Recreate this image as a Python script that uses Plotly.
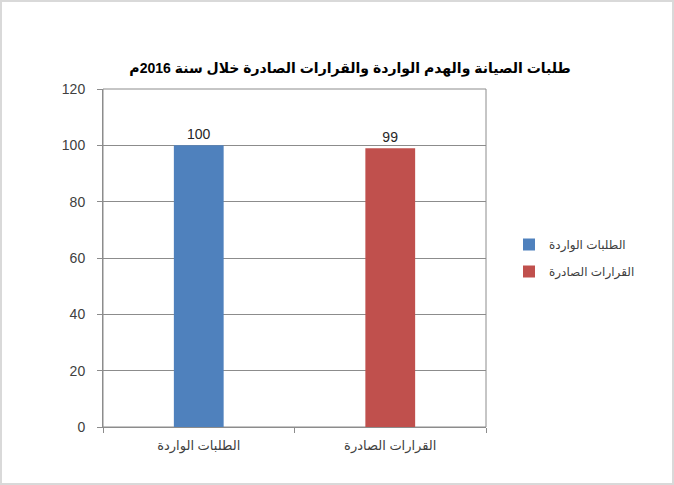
import plotly.graph_objects as go

title = "طلبات الصيانة والهدم الواردة والقرارات الصادرة خلال سنة 2016م"
categories = ["الطلبات الواردة", "القرارات الصادرة"]
series_names = ["الطلبات الواردة", "القرارات الصادرة"]
values = [100, 99]
colors = ["#4F81BD", "#C0504D"]

W, H = 674, 485
ml, mr, mt, mb = 103, 188, 89, 58
pw, ph = W - ml - mr, H - mt - mb

fig = go.Figure()
for i, (name, cat, val, col) in enumerate(zip(series_names, categories, values, colors)):
    fig.add_trace(go.Bar(
        name=name, x=[cat], y=[val], marker=dict(color=col, line=dict(width=0)),
        width=0.26, text=[str(val)], textposition="outside",
        textfont=dict(size=14, color="#262626"), cliponaxis=False,
        legendgroup="g%d" % i,
    ))

font = "Liberation Sans, Arial, DejaVu Sans, sans-serif"
fig.update_layout(
    width=W, height=H, barmode="overlay",
    margin=dict(l=ml, r=mr, t=mt, b=mb),
    paper_bgcolor="white", plot_bgcolor="white",
    font=dict(family=font, size=13, color="#404040"),
    title=dict(text="<b>" + title + "</b>", x=350 / W, xanchor="center",
               y=1 - 68 / H, yanchor="middle",
               font=dict(size=14, color="#000000", family=font)),
    showlegend=True,
    legend=dict(x=(509 - ml) / pw, xanchor="left", y=(427 - 258) / ph, yanchor="middle",
                font=dict(size=12, color="#404040"), traceorder="grouped",
                tracegroupgap=8, bgcolor="rgba(0,0,0,0)"),
    yaxis=dict(range=[0, 120], dtick=20, showgrid=True, gridcolor="#8C8C8C",
               gridwidth=1, showline=True, linecolor="#8C8C8C", ticks="outside",
               ticklen=5, tickcolor="#8C8C8C", zeroline=False, mirror=False,
               ticklabelstandoff=9,
               tickfont=dict(size=14, color="#404040")),
    xaxis=dict(showline=True, linecolor="#8C8C8C", mirror=False,
               ticks="outside", ticklen=5, tickcolor="#8C8C8C",
               ticklabelstandoff=6,
               tickson="boundaries", tickfont=dict(size=13, color="#404040")),
    shapes=[
        dict(type="rect", xref="paper", yref="paper", x0=0, x1=1, y0=0, y1=1,
             line=dict(color="#8C8C8C", width=1), layer="below"),
        dict(type="rect", xref="paper", yref="paper",
             x0=-(ml - 1) / pw, x1=1 + (mr - 1) / pw,
             y0=-(mb - 1) / ph, y1=1 + (mt - 1) / ph,
             line=dict(color="#D9D9D9", width=2)),
    ],
)

fig.write_html("out.html", config={"displayModeBar": False},
               post_script="document.body.style.margin='0';")
